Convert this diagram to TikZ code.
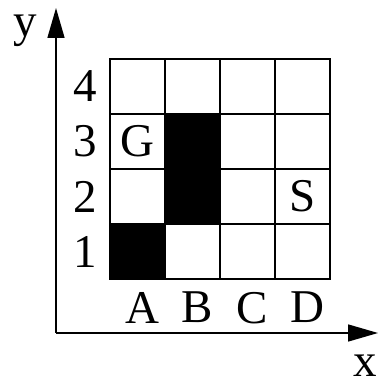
\documentclass[tikz,border=0pt]{standalone}
\usepackage{fontspec}
\setmainfont{Liberation Serif}
\usetikzlibrary{arrows.meta,positioning}

\begin{document}
\begin{tikzpicture}[
  x=1pt, y=1pt,
  cell/.style={draw, line width=1.2pt, minimum size=55pt, inner sep=0pt, outer sep=0pt, anchor=south west},
  lbl/.style={font=\fontsize{47}{47}\selectfont, inner sep=0pt},
  axis/.style={-{Triangle[length=30pt,width=17pt]}, line width=1.5pt},
]
\useasboundingbox (0,0) rectangle (379,387);

% Grid of cells, named by column letter and row number
\foreach \col [count=\i from 0] in {A,B,C,D} {
  \foreach \row in {1,...,4} {
    \node[cell] (\col\row) at (110+55*\i, 53+55*\row) {};
  }
}

% Blocked cells
\foreach \c in {A1,B2,B3}
  \fill[black] (\c.south west) rectangle (\c.north east);

% Goal and start
\node[lbl] (goal) at (A3) {G};
\node[lbl] (start) at (D2) {S};

% Row and column labels
\foreach \row in {1,...,4}
  \node[lbl, left=13pt of A\row] (r\row) {\row};
\foreach \col in {A,B,C,D}
  \node[lbl, below=13pt of \col1, xshift=5pt] (l\col) {\col};

% Axes
\coordinate (origin) at (56,54);
\coordinate (ytip) at (56,379);
\coordinate (xtip) at (378,54);
\draw[axis] (origin) -- (ytip);
\draw[axis] (origin) -- (xtip);
\node[lbl] (ylab) at (25,356) {y};
\node[lbl] (xlab) at (365,21) {x};

\end{tikzpicture}
\end{document}
